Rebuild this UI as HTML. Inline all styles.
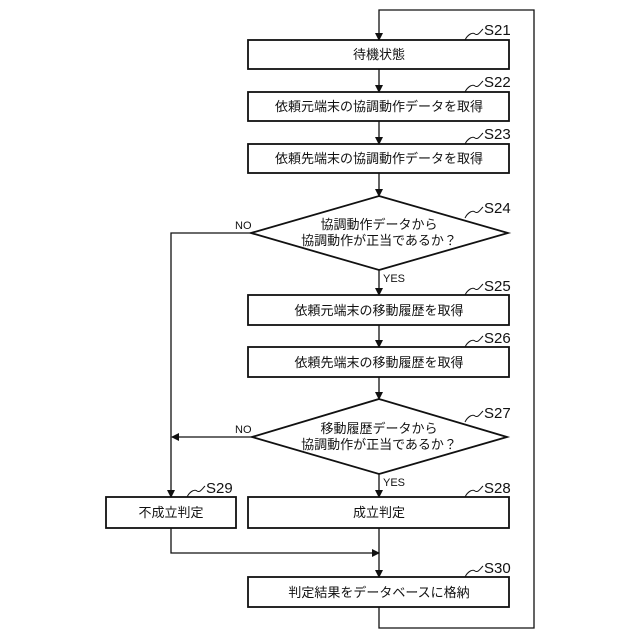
<!DOCTYPE html>
<html><head><meta charset="utf-8"><style>
html,body{margin:0;padding:0;background:#fff;}
svg{display:block;}
text{font-family:"Liberation Sans","Noto Sans CJK JP",sans-serif;fill:#111;}
.t{font-size:13px;text-anchor:middle;}
.l{font-size:15px;}
.s{font-size:11px;}
</style></head><body>
<svg width="640" height="640" viewBox="0 0 640 640" xmlns="http://www.w3.org/2000/svg">
<defs><marker id="a" markerWidth="8" markerHeight="10" refX="7" refY="5" orient="auto" markerUnits="userSpaceOnUse"><path d="M0,1 L8,5 L0,9 Z" fill="#111"/></marker></defs>
<g fill="none" stroke="#111" stroke-width="1.3">
<!-- loop -->
<path d="M379,607 V628 H534 V10 H379 V40" marker-end="url(#a)"/>
<rect x="248" y="40" width="261" height="29" stroke-width="1.8"/>
<line x1="379" y1="69" x2="379" y2="92" marker-end="url(#a)"/>
<rect x="248" y="92" width="261" height="29" stroke-width="1.8"/>
<line x1="379" y1="121" x2="379" y2="144" marker-end="url(#a)"/>
<rect x="248" y="144" width="261" height="29" stroke-width="1.8"/>
<line x1="379" y1="173" x2="379" y2="196" marker-end="url(#a)"/>
<polygon points="379,196 508,233 379,270 251,233" stroke-width="1.8"/>
<line x1="379" y1="270" x2="379" y2="295" marker-end="url(#a)"/>
<rect x="248" y="295" width="261" height="30" stroke-width="1.8"/>
<line x1="379" y1="325" x2="379" y2="347" marker-end="url(#a)"/>
<rect x="248" y="347" width="261" height="30" stroke-width="1.8"/>
<line x1="379" y1="377" x2="379" y2="399" marker-end="url(#a)"/>
<polygon points="379,399 507,437 379,474 252,437" stroke-width="1.8"/>
<line x1="379" y1="474" x2="379" y2="497" marker-end="url(#a)"/>
<rect x="248" y="497" width="261" height="31" stroke-width="1.8"/>
<rect x="106" y="497" width="130" height="31" stroke-width="1.8"/>
<path d="M251,233 H171 V497" marker-end="url(#a)"/>
<line x1="252" y1="437" x2="172" y2="437" marker-end="url(#a)"/>
<path d="M171,528 V553 H379" marker-end="url(#a)"/>
<line x1="379" y1="528" x2="379" y2="577" marker-end="url(#a)"/>
<rect x="248" y="577" width="261" height="30" stroke-width="1.8"/>
<!-- label tildes -->
<g stroke-width="1">
<path d="M465,40 c3,-6 8,-8 10,-6 c3,2 5,-2 8,-5"/>
<path d="M465,92 c3,-6 8,-8 10,-6 c3,2 5,-2 8,-5"/>
<path d="M465,144 c3,-6 8,-8 10,-6 c3,2 5,-2 8,-5"/>
<path d="M465,218 c3,-6 8,-8 10,-6 c3,2 5,-2 8,-5"/>
<path d="M465,295 c3,-6 8,-8 10,-6 c3,2 5,-2 8,-5"/>
<path d="M465,347 c3,-6 8,-8 10,-6 c3,2 5,-2 8,-5"/>
<path d="M465,422 c3,-6 8,-8 10,-6 c3,2 5,-2 8,-5"/>
<path d="M465,497 c3,-6 8,-8 10,-6 c3,2 5,-2 8,-5"/>
<path d="M187,497 c3,-6 8,-8 10,-6 c3,2 5,-2 8,-5"/>
<path d="M465,577 c3,-6 8,-8 10,-6 c3,2 5,-2 8,-5"/>
</g>
</g>
<text class="t" x="379" y="59">待機状態</text>
<text class="t" x="379" y="111">依頼元端末の協調動作データを取得</text>
<text class="t" x="379" y="163">依頼先端末の協調動作データを取得</text>
<text class="t" x="379" y="229">協調動作データから</text>
<text class="t" x="379" y="245">協調動作が正当であるか？</text>
<text class="t" x="379" y="315">依頼元端末の移動履歴を取得</text>
<text class="t" x="379" y="367">依頼先端末の移動履歴を取得</text>
<text class="t" x="379" y="433">移動履歴データから</text>
<text class="t" x="379" y="449">協調動作が正当であるか？</text>
<text class="t" x="379" y="517">成立判定</text>
<text class="t" x="171" y="517">不成立判定</text>
<text class="t" x="379" y="597">判定結果をデータベースに格納</text>
<text class="l" x="484" y="35">S21</text>
<text class="l" x="484" y="87">S22</text>
<text class="l" x="484" y="139">S23</text>
<text class="l" x="484" y="213">S24</text>
<text class="l" x="484" y="291">S25</text>
<text class="l" x="484" y="343">S26</text>
<text class="l" x="484" y="418">S27</text>
<text class="l" x="484" y="493">S28</text>
<text class="l" x="206" y="493">S29</text>
<text class="l" x="484" y="573">S30</text>
<text class="s" x="235" y="229">NO</text>
<text class="s" x="235" y="433">NO</text>
<text class="s" x="383" y="282">YES</text>
<text class="s" x="383" y="486">YES</text>
</svg>
</body></html>
